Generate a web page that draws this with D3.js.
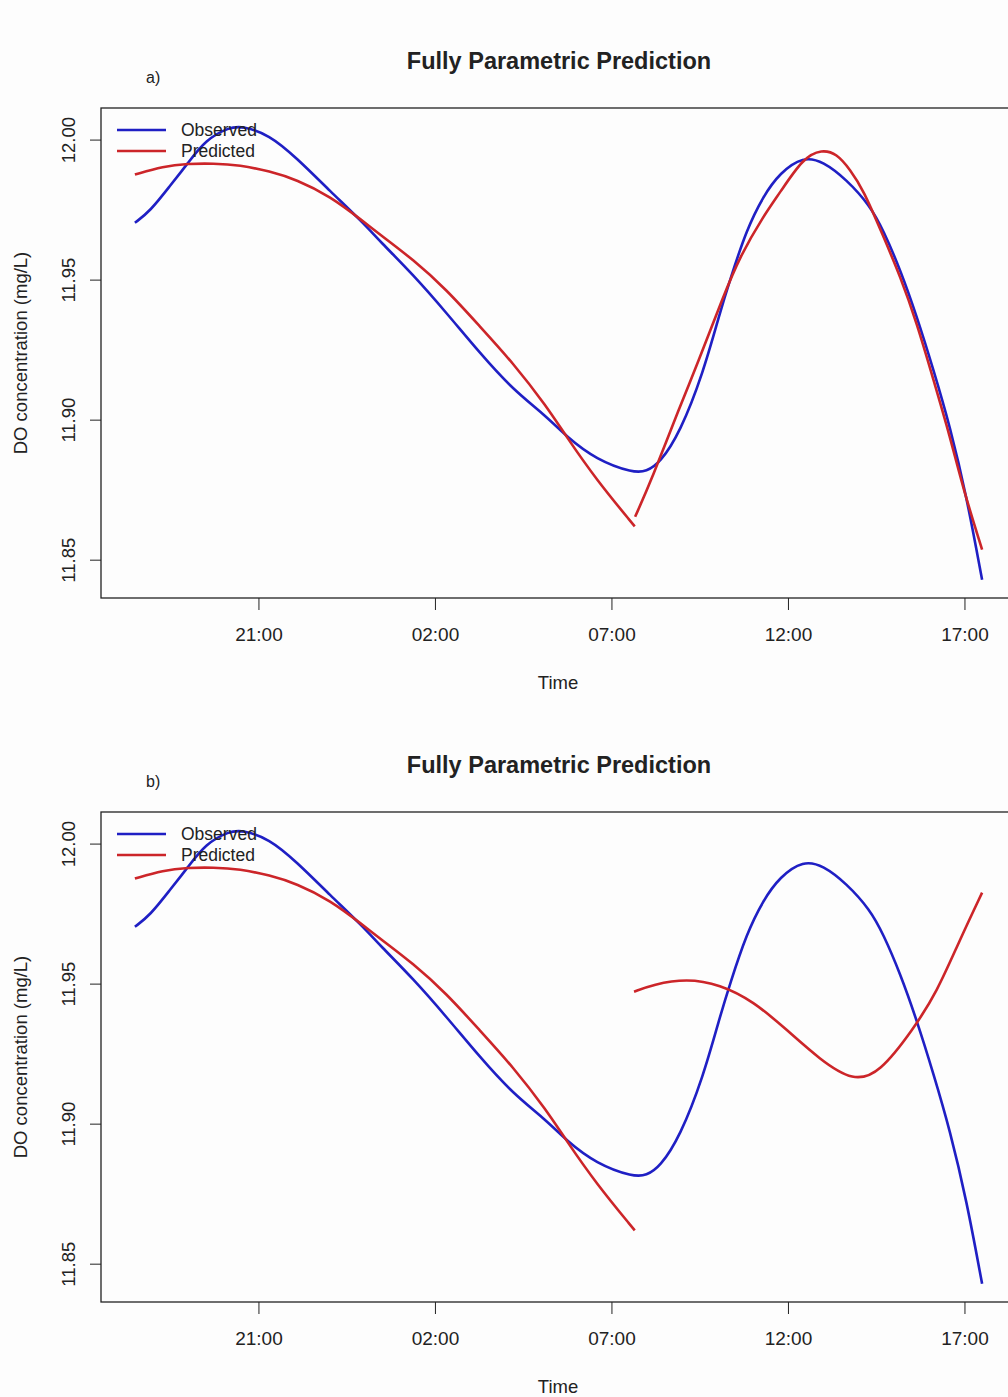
<!DOCTYPE html>
<html>
<head>
<meta charset="utf-8">
<script src="https://cdn.jsdelivr.net/npm/d3@7"></script>
<style>
  body { margin: 0; background: #fff; }
  svg { display: block; font-family: "Liberation Sans", Arial, sans-serif; }
</style>
</head>
<body>
<div id="chart"></div>
<script>
// time in clock hours (24+ = next day), values in mg/L
const obsTime = [17.5, 17.93, 18.49, 18.99, 19.51, 20.17, 20.55, 21.30, 22.08, 23.03, 23.97, 24.44, 25.38, 26.33,
                 27.27, 28.21, 29.16, 29.72, 30.57, 31.62, 31.99, 32.37, 32.94, 33.60, 34.07, 34.36, 34.83, 35.30,
                 35.77, 36.43, 37.00, 37.66, 38.32, 38.70, 39.18, 39.65, 40.12, 40.59, 41.06, 41.5];
const obsValue = [11.9703, 11.9744, 11.9834, 11.9914, 12.0000, 12.0044, 12.0048, 12.0018, 11.9935, 11.9816, 11.9703, 11.9637, 11.9518, 11.9381,
                  11.9238, 11.9107, 11.9012, 11.8940, 11.8857, 11.8810, 11.8815, 11.8845, 11.8953, 11.9167, 11.9381, 11.9500, 11.9679, 11.9798,
                  11.9881, 11.9940, 11.9922, 11.9857, 11.9765, 11.9677, 11.9536, 11.9369, 11.9179, 11.8976, 11.8726, 11.8428];

// predicted, first part (same in both panels)
const predTime1 = [17.5, 18.30, 19.01, 19.72, 20.47, 21.32, 22.08, 23.03, 23.97, 24.44, 25.38, 26.33, 27.27, 28.21,
                   29.16, 29.72, 30.57, 31.66];
const predValue1 = [11.9875, 11.9905, 11.9914, 11.9915, 11.9909, 11.9887, 11.9857, 11.9798, 11.9708, 11.9661, 11.9572, 11.9464, 11.9333, 11.9203,
                    11.9048, 11.8940, 11.8786, 11.8619];

// predicted, second part, panel a
const predTimeA = [31.67, 32.14, 32.94, 33.41, 34.17, 34.64, 35.30, 35.77, 36.43, 36.96, 37.38, 37.76, 38.13, 38.70,
                   39.18, 39.65, 40.12, 40.59, 40.97, 41.5];
const predValueA = [11.8653, 11.8786, 11.9048, 11.9190, 11.9441, 11.9583, 11.9726, 11.9810, 11.9935, 11.9965, 11.9950, 11.9893, 11.9822, 11.9655,
                    11.9512, 11.9345, 11.9143, 11.8940, 11.8750, 11.8536];

// predicted, second part, panel b
const predTimeB = [31.64, 32.18, 33.13, 34.07, 35.02, 35.96, 36.90, 37.85, 38.60, 39.54, 40.21, 40.87, 41.5];
const predValueB = [11.9471, 11.9497, 11.9518, 11.9497, 11.9437, 11.9336, 11.9229, 11.9150, 11.9181, 11.9336, 11.9467, 11.9657, 11.9825];

const tickHours = [21, 26, 31, 36, 41];
const tickLabels = ["21:00", "02:00", "07:00", "12:00", "17:00"];
const yTicks = [11.85, 11.90, 11.95, 12.00];

const W = 1008, H = 1397;
const blue = "#1f1fc4", red = "#cc2529", ink = "#222";

const svg = d3.select("#chart").append("svg")
    .attr("width", W)
    .attr("height", H);

svg.append("rect").attr("width", W).attr("height", H).attr("fill", "#fdfdfd");

const zip = (t, v) => t.map((d, i) => ({t: d, v: v[i]}));

// R style 4% padding
function padded(lo, hi) {
    const e = (hi - lo) * 0.04;
    return [lo - e, hi + e];
}

const x = d3.scaleLinear()
    .domain(padded(d3.min(obsTime), d3.max(obsTime)))
    .range([101, 1016]);

const allVals = obsValue.concat(predValue1, predValueA);
const yDomain = padded(d3.min(allVals), d3.max(allVals));

function drawPanel(top, tag, pred2) {
    const g = svg.append("g").attr("transform", `translate(0,${top})`);
    const y = d3.scaleLinear().domain(yDomain).range([598, 108]);

    // smoothing spline look
    const line = d3.line()
        .x(d => x(d.t))
        .y(d => y(d.v))
        .curve(d3.curveBasis);

    g.append("text")
        .attr("x", 559).attr("y", 69)
        .attr("text-anchor", "middle")
        .attr("font-weight", "bold")
        .attr("font-size", 23.5)
        .attr("fill", ink)
        .text("Fully Parametric Prediction");

    g.append("text")
        .attr("x", 146).attr("y", 83)
        .attr("font-size", 16)
        .attr("fill", ink)
        .text(tag);

    // x axis
    const xAxis = g.append("g")
        .attr("transform", "translate(0,598)")
        .call(d3.axisBottom(x).tickValues(tickHours)
            .tickFormat((d, i) => tickLabels[i]).tickSize(12).tickPadding(18));
    xAxis.select(".domain").remove();
    xAxis.selectAll("line").attr("stroke", ink);
    xAxis.selectAll("text").attr("font-size", 19).attr("fill", ink)
        .attr("font-family", "Liberation Sans, Arial, sans-serif");

    g.append("text")
        .attr("x", 558).attr("y", 689)
        .attr("text-anchor", "middle")
        .attr("font-size", 18.5)
        .attr("fill", ink)
        .text("Time");

    // y axis
    const yAxis = g.append("g")
        .attr("transform", "translate(101,0)")
        .call(d3.axisLeft(y).tickValues(yTicks).tickFormat(d3.format(".2f")).tickSize(11));
    yAxis.select(".domain").remove();
    yAxis.selectAll("line").attr("stroke", ink);
    yAxis.selectAll("text")
        .attr("font-size", 18.5).attr("fill", ink)
        .attr("font-family", "Liberation Sans, Arial, sans-serif")
        .attr("text-anchor", "middle")
        .attr("x", null).attr("dy", null)
        .attr("transform", "translate(-26,0) rotate(-90)");

    g.append("text")
        .attr("transform", "translate(27,353) rotate(-90)")
        .attr("text-anchor", "middle")
        .attr("font-size", 18.5)
        .attr("fill", ink)
        .text("DO concentration (mg/L)");

    // plot box
    g.append("rect")
        .attr("x", 101).attr("y", 108)
        .attr("width", 1016 - 101).attr("height", 598 - 108)
        .attr("fill", "none")
        .attr("stroke", ink)
        .attr("stroke-width", 1.3);

    g.append("path")
        .datum(zip(obsTime, obsValue))
        .attr("d", line)
        .attr("fill", "none").attr("stroke", blue).attr("stroke-width", 2.6);

    g.append("path")
        .datum(zip(predTime1, predValue1))
        .attr("d", line)
        .attr("fill", "none").attr("stroke", red).attr("stroke-width", 2.6);

    g.append("path")
        .datum(pred2)
        .attr("d", line)
        .attr("fill", "none").attr("stroke", red).attr("stroke-width", 2.6);

    // legend
    const legend = [{name: "Observed", color: blue}, {name: "Predicted", color: red}];
    const lg = g.selectAll(".legend").data(legend).enter().append("g")
        .attr("class", "legend")
        .attr("transform", (d, i) => `translate(117,${130 + i * 21})`);
    lg.append("line").attr("x1", 0).attr("x2", 49)
        .attr("stroke", d => d.color).attr("stroke-width", 2.6);
    lg.append("text").attr("x", 64).attr("y", 6)
        .attr("font-size", 17.5).attr("fill", ink)
        .text(d => d.name);
}

drawPanel(0, "a)", zip(predTimeA, predValueA));
drawPanel(704, "b)", zip(predTimeB, predValueB));
</script>
</body>
</html>
